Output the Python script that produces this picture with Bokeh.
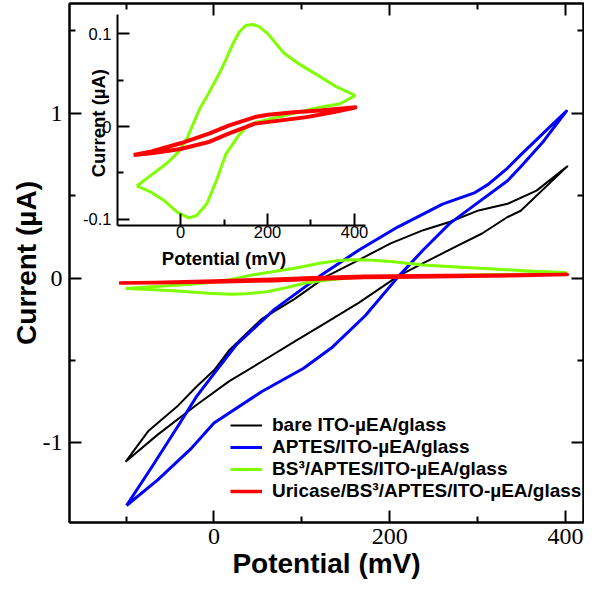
import math
from bokeh.plotting import figure
from bokeh.models import (Range1d, LinearAxis, FixedTicker, Legend, LegendItem, Label,
                          CustomJSTickFormatter)
from bokeh.embed import file_html
from bokeh.resources import INLINE

# ---------------- data (potential in mV, current in uA) ----------------
# bare ITO-uEA/glass (black)
bare_up_v = [-100.6, -75, -42, -20, 0, 17, 54, 91, 128, 165, 201, 238, 268, 301, 334, 367, 402]
bare_up_i = [-1.115, -0.93, -0.78, -0.66, -0.56, -0.44, -0.25, -0.13, 0.01, 0.11, 0.21, 0.29, 0.34, 0.41, 0.45, 0.53, 0.677]
bare_dn_v = [402, 349, 334, 305, 275, 238, 209, 165, 128, 91, 54, 17, -20, -64, -100.6]
bare_dn_i = [0.677, 0.408, 0.37, 0.27, 0.19, 0.09, 0.01, -0.149, -0.269, -0.388, -0.508, -0.627, -0.77, -0.95, -1.115]

# APTES/ITO-uEA/glass (blue)
aptes_up_v = [-99.5, -70, -40, -20, 0, 25, 69, 120, 165, 209, 260, 297, 312, 334, 349, 375, 401]
aptes_up_i = [-1.38, -1.14, -0.89, -0.72, -0.58, -0.408, -0.189, 0.01, 0.17, 0.309, 0.448, 0.518, 0.568, 0.667, 0.747, 0.88, 1.012]
aptes_dn_v = [401, 375, 349, 334, 301, 268, 238, 210, 172, 135, 102, 54, 0, -27, -64, -99.5]
aptes_dn_i = [1.012, 0.83, 0.675, 0.59, 0.46, 0.33, 0.17, 0.01, -0.229, -0.418, -0.547, -0.69, -0.88, -1.04, -1.225, -1.38]

# BS3/APTES/ITO-uEA/glass (green)
bs3_fwd_v = [-100.5, -67, -30, -4, 15, 30, 45, 60, 75, 90, 105, 120, 135, 150, 165, 180, 201, 238, 276, 313, 358, 400]
bs3_fwd_i = [-0.064, -0.052, -0.039, -0.027, -0.0127, 0.004, 0.020, 0.032, 0.045, 0.058, 0.073, 0.089, 0.102, 0.109, 0.110, 0.108, 0.100, 0.079, 0.0665, 0.056, 0.043, 0.034]
bs3_rev_v = [400, 365, 320, 246, 171, 156, 134, 104, 82, 60, 37, 19, -7, -37, -67, -100.5]
bs3_rev_i = [0.033, 0.0243, 0.0208, 0.0127, 0.0042, 0.0014, -0.0092, -0.030, -0.0587, -0.0835, -0.0959, -0.0984, -0.0924, -0.080, -0.071, -0.064]

# Uricase/BS3/APTES/ITO-uEA/glass (red)
uric_fwd_v = [-108, -67, 0, 67, 112, 171, 201, 261, 320, 402]
uric_fwd_i = [-0.0305, -0.0269, -0.018, -0.0074, 0.0014, 0.0103, 0.0127, 0.0155, 0.0173, 0.0208]
uric_rev_v = [402, 350, 290, 231, 171, 112, 67, 0, -67, -108]
uric_rev_i = [0.0205, 0.0155, 0.0102, 0.0067, 0.0032, -0.0074, -0.0163, -0.0241, -0.0287, -0.0305]

labels = ["bare ITO-\u00b5EA/glass", "APTES/ITO-\u00b5EA/glass",
          "BS\u00b3/APTES/ITO-\u00b5EA/glass", "Uricase/BS\u00b3/APTES/ITO-\u00b5EA/glass"]
colors = ["#000000", "#0000ff", "#7fff00", "#ff0000"]

main_xticks = [0, 200, 400]
main_xminor = [-100, 100, 300]
main_yticks = [-1, 0, 1]
main_yminor = [-1.5, -0.5, 0.5, 1.5]
inset_xticks = [0, 200, 400]
inset_xminor = [100, 300]
inset_yticks = [-0.1, 0, 0.1]
inset_yminor = [-0.05, 0.05]

# ---------------- figure ----------------
W, H = 584, 581
p = figure(width=W, height=H, output_backend="svg", toolbar_location=None,
           x_range=Range1d(-164.4, 420.4), y_range=Range1d(-1.483, 1.665),
           min_border_left=69, min_border_right=1, min_border_top=3, min_border_bottom=59)
p.xgrid.visible = False
p.ygrid.visible = False
p.outline_line_color = "black"
p.outline_line_width = 2
p.background_fill_color = "white"
p.border_fill_color = "white"

p.extra_x_ranges = {"ix": Range1d(-255.4, 926.7)}
p.extra_y_ranges = {"iy": Range1d(-0.4268, 0.1327)}

def style(ax, major=12, minor=6, lw=2):
    ax.major_tick_in = major
    ax.major_tick_out = 0
    ax.minor_tick_in = minor
    ax.minor_tick_out = 0
    ax.axis_line_width = lw
    ax.major_tick_line_width = lw
    ax.minor_tick_line_width = lw
    ax.axis_line_color = "black"
    ax.major_tick_line_color = "black"
    ax.minor_tick_line_color = "black"
    ax.major_label_text_color = "black"
    ax.axis_label_text_color = "black"

plain = CustomJSTickFormatter(code="return tick.toString()")

xa = p.xaxis[0]
ya = p.yaxis[0]
style(xa); style(ya)
xa.ticker = FixedTicker(ticks=main_xticks, minor_ticks=main_xminor)
ya.ticker = FixedTicker(ticks=main_yticks, minor_ticks=main_yminor)
xa.formatter = plain
ya.formatter = plain
for ax in (xa, ya):
    ax.major_label_text_font = "Liberation Serif"
    ax.major_label_text_font_size = "24px"
    ax.axis_label_text_font = "Liberation Sans"
    ax.axis_label_text_font_style = "bold"
    ax.axis_label_text_font_size = "28px"
xa.axis_label = "Potential (mV)"
ya.axis_label = "Current (\u00b5A)"
xa.major_label_standoff = 6
xa.axis_label_standoff = 1
ya.major_label_standoff = 7
ya.axis_label_standoff = -2

blank = CustomJSTickFormatter(code="return ''")
top = LinearAxis(ticker=FixedTicker(ticks=main_xticks, minor_ticks=main_xminor),
                 formatter=blank, major_label_text_font_size="0px", major_label_standoff=0)
right = LinearAxis(ticker=FixedTicker(ticks=main_yticks, minor_ticks=main_yminor),
                   formatter=blank, major_label_text_font_size="0px", major_label_standoff=0)
style(top); style(right)
p.add_layout(top, "above")
p.add_layout(right, "right")

# ---------------- main curves ----------------
rs = []
loops = [(bare_up_v + bare_dn_v, bare_up_i + bare_dn_i, 2),
         (aptes_up_v + aptes_dn_v, aptes_up_i + aptes_dn_i, 3),
         (bs3_fwd_v + bs3_rev_v, bs3_fwd_i + bs3_rev_i, 3),
         (uric_fwd_v + uric_rev_v, uric_fwd_i + uric_rev_i, 3.5)]
for (v, i, lw), c in zip(loops, colors):
    rs.append(p.line(v, i, line_color=c, line_width=lw, line_join="round"))

# ---------------- inset ----------------
p.line(bs3_fwd_v + bs3_rev_v, bs3_fwd_i + bs3_rev_i, line_color=colors[2], line_width=3,
       x_range_name="ix", y_range_name="iy", line_join="round")
p.line(uric_fwd_v + uric_rev_v, uric_fwd_i + uric_rev_i, line_color=colors[3], line_width=4,
       x_range_name="ix", y_range_name="iy", line_join="round")

ix = LinearAxis(x_range_name="ix", y_range_name="iy", fixed_location=-0.1065,
                bounds=(-145, 424.6),
                ticker=FixedTicker(ticks=inset_xticks, minor_ticks=inset_xminor),
                formatter=plain)
iy = LinearAxis(x_range_name="ix", y_range_name="iy", fixed_location=-145,
                bounds=(-0.1065, 0.121),
                ticker=FixedTicker(ticks=inset_yticks, minor_ticks=inset_yminor),
                formatter=CustomJSTickFormatter(code="return Math.abs(tick) < 1e-9 ? '0' : tick.toFixed(1)"))
for ax in (ix, iy):
    style(ax, major=12, minor=6, lw=2)
    ax.major_label_text_font = "Liberation Sans"
    ax.major_label_text_font_size = "16.5px"
ix.major_label_standoff = 1
iy.major_label_standoff = 6
p.add_layout(ix, "below")
p.add_layout(iy, "left")

p.add_layout(Label(x=100, y=-0.142, x_range_name="ix", y_range_name="iy",
                   text="Potential (mV)", text_align="center", text_baseline="alphabetic",
                   text_font="Liberation Sans", text_font_style="bold", text_font_size="18.5px",
                   text_color="black"))
p.add_layout(Label(x=-189.7, y=0.0037, x_range_name="ix", y_range_name="iy",
                   angle=math.pi / 2, text="Current (\u00b5A)", text_align="center",
                   text_baseline="alphabetic", text_font="Liberation Sans",
                   text_font_style="bold", text_font_size="18.5px", text_color="black"))

# ---------------- legend ----------------
legend = Legend(items=[LegendItem(label=l, renderers=[r]) for l, r in zip(labels, rs)],
                location=(161, 20), padding=0, margin=0, spacing=0,
                glyph_width=32, glyph_height=20, label_height=20, label_standoff=10,
                border_line_color=None, background_fill_alpha=0,
                label_text_font="Liberation Sans", label_text_font_style="bold",
                label_text_font_size="19px", label_text_color="black")
p.add_layout(legend)

open("out.html", "w").write(file_html(p, INLINE))
